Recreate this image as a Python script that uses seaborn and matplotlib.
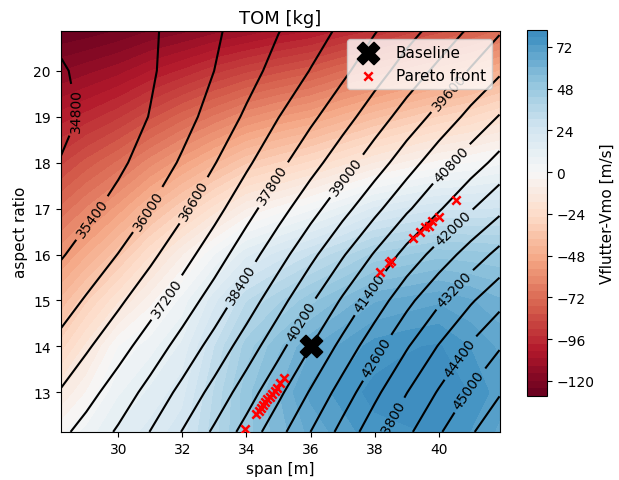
import numpy as np
import matplotlib
matplotlib.use("Agg")
import matplotlib.pyplot as plt
import seaborn as sns

# grid nodes (span [m], aspect ratio)
span = [28.2, 29, 30, 31, 32, 33, 34, 35, 36, 37, 38, 39, 40, 41, 41.9]
aspect_ratio = [12.14, 13, 14, 15, 16, 17, 18, 19, 20, 20.86]

# TOM [kg], one row per aspect ratio
tom = [
    [37070, 37406, 37876, 38416, 39026, 39701, 40431, 41201, 42001, 42801, 43561, 44271, 44931, 45531, 46026],
    [36640, 37000, 37475, 37995, 38566, 39198, 39906, 40663, 41459, 42268, 43054, 43785, 44454, 45067, 45553],
    [36170, 36523, 36985, 37480, 38026, 38623, 39286, 40013, 40789, 41588, 42384, 43145, 43834, 44467, 44953],
    [35730, 36058, 36495, 36970, 37491, 38063, 38693, 39378, 40114, 40878, 41654, 42425, 43104, 43727, 44223],
    [35350, 35615, 36015, 36470, 36976, 37523, 38132, 38763, 39439, 40138, 40854, 41605, 42254, 42867, 43373],
    [35050, 35268, 35585, 36010, 36486, 37013, 37587, 38178, 38779, 39398, 40034, 40700, 41330, 41947, 42453],
    [34820, 35008, 35290, 35650, 36076, 36573, 37097, 37648, 38179, 38738, 39314, 39920, 40560, 41107, 41593],
    [34670, 34870, 35140, 35420, 35786, 36228, 36687, 37188, 37680, 38168, 38704, 39250, 39790, 40377, 40833],
    [34750, 34910, 35140, 35340, 35636, 36003, 36377, 36808, 37219, 37678, 38154, 38650, 39140, 39650, 40113],
    [34896, 34980, 35155, 35327, 35595, 35917, 36240, 36584, 36935, 37320, 37767, 38200, 38620, 39100, 39545],
]

# Vflutter - Vmo [m/s], one row per aspect ratio
vflutter = [
    [-1, 6, 14, 19, 24, 37, 50, 58, 66, 71, 76, 77, 78, 73, 68],
    [-13, -4, 8, 14, 20, 35, 50, 60, 70, 75, 79, 80, 81.8, 77, 71],
    [-28, -16, 0, 7, 14, 30, 45, 55, 64, 70, 75, 77, 78, 73, 68],
    [-42, -31, -18, -6, 6, 20, 34, 42, 50, 57, 64, 66, 68, 65, 61],
    [-57, -48, -36, -22, -9, 4, 16, 23, 30, 37, 44, 47, 50, 49, 48],
    [-72, -64, -54, -42, -31, -20, -9, -3, 3, 10, 18, 22, 25, 25, 26],
    [-87, -80, -72, -62, -53, -44, -35, -30, -25, -19, -13, -8, -3, 0, 3],
    [-101, -97, -91, -83, -75, -68, -61, -56, -52, -46, -40, -35, -30, -26, -21],
    [-116, -113, -109, -103, -98, -92, -87, -83, -79, -73, -68, -63, -58, -53, -47],
    [-128.6, -127, -124, -120, -117, -113, -110, -106, -103, -98, -94, -88, -83, -78, -72],
]

baseline_span = [36.0]
baseline_ar = [14.0]

pareto_span = [33.95, 34.31, 34.38, 34.45, 34.52, 34.58, 34.65, 34.72, 34.8, 34.88, 34.95, 35.05, 35.18,
               38.17, 38.44, 38.51, 39.2, 39.43, 39.58, 39.69, 39.8, 40.0, 40.55]
pareto_ar = [12.2, 12.52, 12.6, 12.66, 12.72, 12.8, 12.85, 12.9, 12.96, 13.02, 13.1, 13.2, 13.32,
             15.63, 15.81, 15.86, 16.35, 16.48, 16.59, 16.63, 16.72, 16.82, 17.19]

# where the contour labels sit in the reference
label_spots = [(28.55, 19.12), (29.3, 16.73), (31.0, 16.94), (32.4, 17.16), (31.56, 15.04),
               (34.94, 17.47), (33.8, 15.36), (37.14, 17.7), (40.3, 19.56), (35.7, 14.55),
               (40.46, 17.93), (37.76, 15.21), (40.49, 16.55), (37.97, 13.8), (40.47, 15.25),
               (38.45, 12.4), (40.57, 13.8), (40.83, 13.11)]

tom = np.array(tom)
vflutter = np.array(vflutter)

fig = plt.figure(figsize=(6.19, 4.81), dpi=100)
ax = fig.add_axes([0.098, 0.100, 0.709, 0.833])
cax = fig.add_axes([0.851, 0.175, 0.032, 0.761])

# symmetric colour scale so that 0 is white
vlim = np.abs(vflutter).max()
cf = ax.contourf(span, aspect_ratio, vflutter,
                 levels=np.linspace(vflutter.min(), vflutter.max(), 50),
                 cmap="RdBu", vmin=-vlim, vmax=vlim)

cs = ax.contour(span, aspect_ratio, tom, levels=np.arange(34800, 45601, 600),
                colors="k", linewidths=1.5)
ax.clabel(cs, fmt="%d", fontsize=10, inline=True, manual=label_spots)

sns.scatterplot(x=baseline_span, y=baseline_ar, marker="X", s=250, color="k",
                edgecolor="k", label="Baseline", ax=ax, zorder=5)
sns.scatterplot(x=pareto_span, y=pareto_ar, marker="x", s=36, color="red",
                linewidth=1.8, label="Pareto front", ax=ax, zorder=5)

ax.set_xlim(span[0], span[-1])
ax.set_ylim(aspect_ratio[0], aspect_ratio[-1])
ax.set_xticks(np.arange(30, 41, 2))
ax.set_yticks(np.arange(13, 21, 1))
ax.tick_params(labelsize=10)
ax.set_xlabel("span [m]", fontsize=11)
ax.set_ylabel("aspect ratio", fontsize=11)
ax.set_title("TOM [kg]", fontsize=13)
ax.legend(loc="upper right", fontsize=11)

cbar = fig.colorbar(cf, cax=cax, ticks=np.arange(-120, 73, 24))
cbar.set_label("Vflutter-Vmo [m/s]", fontsize=11)
cbar.ax.tick_params(labelsize=10)

fig.savefig("out.png", dpi=100)
